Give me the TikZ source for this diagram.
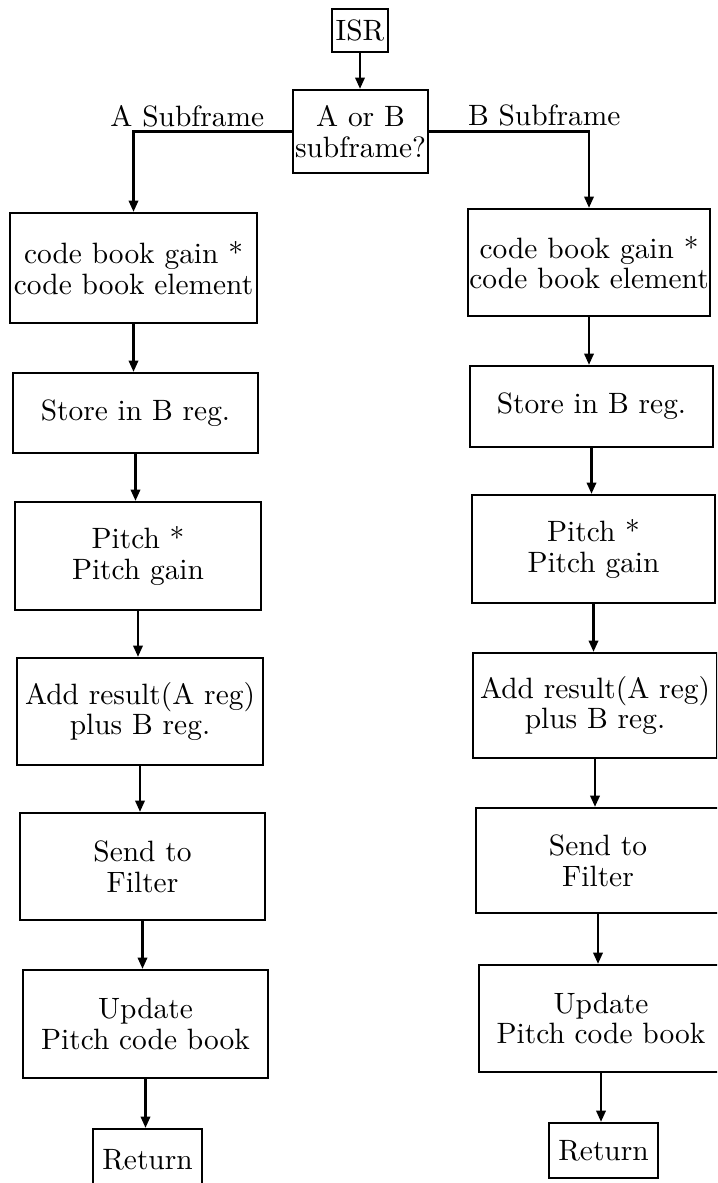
\documentclass[tikz,border=0pt]{standalone}
\usetikzlibrary{arrows.meta}
\begin{document}
\begin{tikzpicture}[x=0.34pt, y=-0.34pt,
  txt/.style={font=\fontsize{10}{10.4}\selectfont},
  box/.style={draw, line width=0.8pt, align=center, inner sep=0pt, txt},
  sz/.style 2 args={minimum width=#1*0.34pt, minimum height=#2*0.34pt},
  conn/.style={line width=0.7pt, -{Triangle[length=3.8pt,width=3.2pt]}},
  lbl/.style={txt, anchor=base, inner sep=0pt}]
\clip (0,0) rectangle (717,1183);

% entry and decision
\node[box, sz={56}{43}]  (isr) at (360,30.5)   {ISR};
\node[box, sz={135}{83}] (dec) at (360.5,131.5) {A or B\\subframe?};

% A subframe branch
\node[box, sz={247}{110}] (a1) at (133.5,268)  {code book gain *\\code book element};
\node[box, sz={245}{80}]  (a2) at (135.5,413)  {Store in B reg.};
\node[box, sz={246}{108}] (a3) at (138,556)    {Pitch *\\Pitch gain};
\node[box, sz={246}{107}] (a4) at (140,711.5)  {Add result(A reg)\\plus B reg.};
\node[box, sz={245}{107}] (a5) at (142.5,866.5){Send to\\Filter};
\node[box, sz={245}{108}] (a6) at (145.5,1024) {Update\\Pitch code book};
\node[box, sz={109}{62}]  (ar) at (147.5,1160) {Return};

% B subframe branch
\node[box, sz={242}{107}] (b1) at (589,262.5)  {code book gain *\\code book element};
\node[box, sz={243}{81}]  (b2) at (591.5,406.5){Store in B reg.};
\node[box, sz={243}{108}] (b3) at (593.5,549)  {Pitch *\\Pitch gain};
\node[box, sz={244}{105}] (b4) at (595,705.5)  {Add result(A reg)\\plus B reg.};
\node[box, sz={244}{105}] (b5) at (598,860.5)  {Send to\\Filter};
\node[box, sz={244}{107}] (b6) at (601,1018.5) {Update\\Pitch code book};
\node[box, sz={109}{55}]  (br) at (603.5,1150.5){Return};

% connectors
\draw[conn] (isr.south) -- (isr.south |- dec.north);
\draw[conn] (dec.west) -| node[lbl, pos=0.33, yshift=1.7pt] {A Subframe} (a1.north);
\draw[conn] (dec.east) -| node[lbl, pos=0.36, yshift=2pt] {B Subframe} (b1.north);

\foreach \u/\v in {a1/a2, a2/a3, a3/a4, a4/a5, a5/a6, a6/ar,
                   b1/b2, b2/b3, b3/b4, b4/b5, b5/b6, b6/br}
  \draw[conn] (\u.south) -- (\u.south |- \v.north);
\end{tikzpicture}
\end{document}
